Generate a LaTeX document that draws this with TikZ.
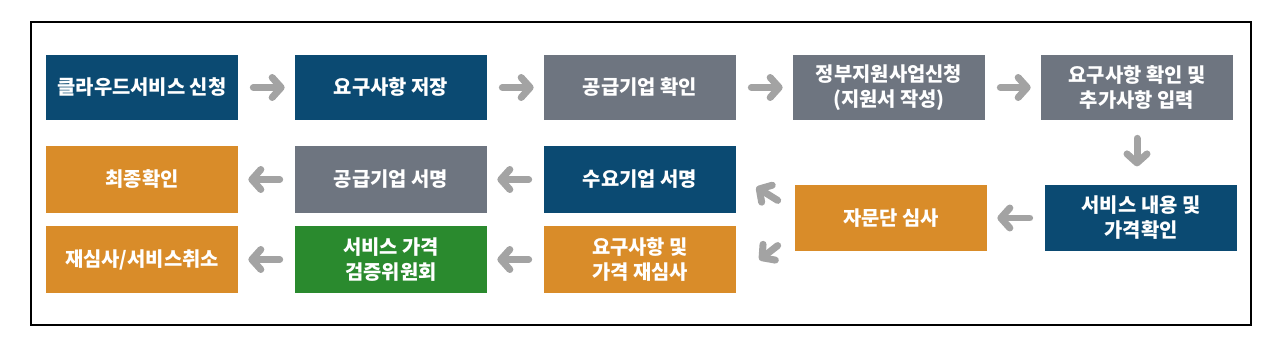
\documentclass[tikz,border=0pt]{standalone}
\usepackage{fontspec}
\setmainfont{Noto Sans CJK KR}
\usepackage{xcolor}
\usepackage{tikz}
\usetikzlibrary{arrows.meta, positioning}

\definecolor{navy}{HTML}{0B4A72}
\definecolor{slate}{HTML}{6E7580}
\definecolor{amber}{HTML}{D98C29}
\definecolor{leaf}{HTML}{2A8A2E}
\definecolor{arrowgray}{HTML}{A3A3A3}

\begin{document}
\begin{tikzpicture}[x=0.02cm, y=-0.02cm,
  box/.style={rectangle, minimum width=3.84cm, minimum height=1.33cm,
              inner sep=0pt, align=center, text=white,
              font=\fontsize{11.3}{14.2}\selectfont\bfseries},
  arrow/.style={-{Straight Barb[round, length=1.8mm, width=4mm]},
                line width=0.14cm, line cap=round, color=arrowgray,
                shorten <=0.3cm, shorten >=0.2cm}
]
  \useasboundingbox (0,0) rectangle (1280,351);
  \draw[line width=0.05cm] (31,22) rectangle (1251,325);

  % first row
  \node[box, fill=navy, minimum height=1.3cm] (cloud) at (142,87.5) {클라우드서비스 신청};
  \node[box, fill=navy, minimum height=1.3cm] (reqsave) at (391,87.5) {요구사항 저장};
  \node[box, fill=slate, minimum height=1.3cm] (supchk) at (640,87.5) {공급기업 확인};
  \node[box, fill=slate, minimum height=1.3cm] (grant) at (889,87.5) {정부지원사업신청\\(지원서 작성)};
  \node[box, fill=slate, minimum height=1.3cm] (reqadd) at (1137,87.5) {요구사항 확인 및\\추가사항 입력};

  % right side
  \node[box, fill=navy] (svc) at (1141,218) {서비스 내용 및\\가격확인};
  \node[box, fill=amber] (panel) at (891,218) {자문단 심사};

  % second and third rows
  \node[box, fill=navy] (demsign) at (640,179.5) {수요기업 서명};
  \node[box, fill=slate] (supsign) at (391,179.5) {공급기업 서명};
  \node[box, fill=amber] (final) at (142,179.5) {최종확인};
  \node[box, fill=amber] (rereview) at (640,259.5) {요구사항 및\\가격 재심사};
  \node[box, fill=leaf] (price) at (391,259.5) {서비스 가격\\검증위원회};
  \node[box, fill=amber] (cancel) at (142,259.5) {재심사/서비스취소};

  \draw[arrow] (cloud) -- (reqsave);
  \draw[arrow] (reqsave) -- (supchk);
  \draw[arrow] (supchk) -- (grant);
  \draw[arrow] (grant) -- (reqadd);
  \draw[arrow, shorten <=0.36cm, shorten >=0.36cm] (reqadd.south) -- (reqadd.south |- svc.north);
  \draw[arrow] (svc) -- (panel);
  \draw[arrow, shorten <=0pt, shorten >=0pt] ([shift={(-17,16)}]panel.north west) -- ([shift={(20,-26)}]demsign.south east);
  \draw[arrow, shorten <=0pt, shorten >=0pt] ([shift={(-17,-6)}]panel.south west) -- ([shift={(23,34)}]rereview.north east);
  \draw[arrow] (demsign) -- (supsign);
  \draw[arrow] (supsign) -- (final);
  \draw[arrow] (rereview) -- (price);
  \draw[arrow] (price) -- (cancel);
\end{tikzpicture}
\end{document}
